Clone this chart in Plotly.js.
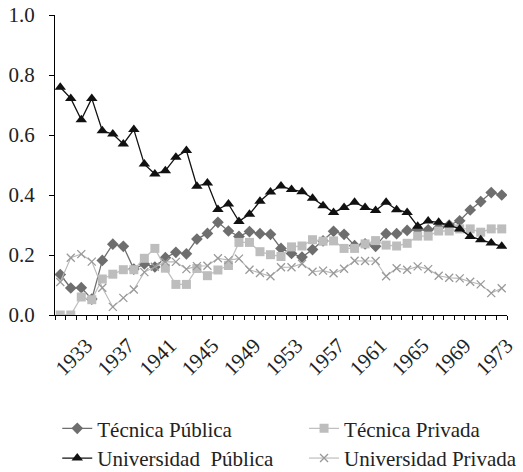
<!DOCTYPE html>
<html>
<head>
<meta charset="utf-8">
<script src="https://cdn.plot.ly/plotly-3.0.1.min.js"></script>
<style>html,body{margin:0;padding:0;background:#fff;}#chart{width:523px;height:472px;}</style>
</head>
<body>
<div id="chart"></div>
<script>
const years = [];
for (let y = 1931; y <= 1973; y++) years.push(y);

const tecnicaPublica = [0.135, 0.090, 0.091, 0.053, 0.182, 0.236, 0.229, 0.153, 0.170, 0.160,
  0.191, 0.209, 0.204, 0.253, 0.272, 0.309, 0.280, 0.262, 0.278, 0.271,
  0.269, 0.222, 0.205, 0.193, 0.218, 0.247, 0.279, 0.269, 0.231, 0.237,
  0.229, 0.271, 0.271, 0.282, 0.285, 0.284, 0.291, 0.300, 0.314, 0.350,
  0.378, 0.408, 0.400];

const tecnicaPrivada = [0.000, 0.000, 0.060, 0.051, 0.120, 0.136, 0.151, 0.151, 0.189, 0.222,
  0.156, 0.102, 0.102, 0.155, 0.131, 0.150, 0.165, 0.242, 0.242, 0.211,
  0.201, 0.195, 0.227, 0.230, 0.251, 0.246, 0.247, 0.222, 0.222, 0.237,
  0.248, 0.233, 0.230, 0.239, 0.263, 0.263, 0.280, 0.280, 0.287, 0.287,
  0.276, 0.287, 0.287];

const universidadPublica = [0.759, 0.722, 0.651, 0.722, 0.614, 0.603, 0.570, 0.618, 0.503, 0.470,
  0.481, 0.526, 0.548, 0.429, 0.440, 0.352, 0.370, 0.312, 0.336, 0.379,
  0.410, 0.430, 0.418, 0.411, 0.389, 0.364, 0.342, 0.358, 0.376, 0.358,
  0.348, 0.376, 0.351, 0.342, 0.296, 0.313, 0.309, 0.300, 0.287, 0.262,
  0.251, 0.240, 0.229];

const universidadPrivada = [0.110, 0.191, 0.203, 0.178, 0.091, 0.027, 0.057, 0.085, 0.143, 0.161,
  0.177, 0.177, 0.153, 0.163, 0.164, 0.189, 0.183, 0.188, 0.151, 0.140,
  0.129, 0.159, 0.159, 0.171, 0.144, 0.148, 0.139, 0.154, 0.181, 0.180,
  0.180, 0.129, 0.156, 0.151, 0.162, 0.153, 0.131, 0.124, 0.122, 0.111,
  0.102, 0.073, 0.089];

const tickYears = [1933, 1937, 1941, 1945, 1949, 1953, 1957, 1961, 1965, 1969, 1973];
const tickLabels = tickYears.map(String);
const yTicks = [0, 0.2, 0.4, 0.6, 0.8, 1.0];

const serif = 'Liberation Serif';
const fs = 21;

const traces = [
  {name: 'Técnica Pública', y: tecnicaPublica, legend: 'legend',
   line: {color: '#6e6e6e', width: 1.3},
   marker: {symbol: 'diamond', size: 9, color: '#6e6e6e'}},
  {name: 'Técnica Privada', y: tecnicaPrivada, legend: 'legend2',
   line: {color: '#c0c0c0', width: 1.3},
   marker: {symbol: 'square', size: 9, color: '#bdbdbd'}},
  {name: 'Universidad\u00a0 Pública', y: universidadPublica, legend: 'legend3',
   line: {color: '#111111', width: 1.3},
   marker: {symbol: 'triangle-up', size: 10, color: '#111111'}},
  {name: 'Universidad Privada', y: universidadPrivada, legend: 'legend4',
   line: {color: '#b8b8b8', width: 1.1},
   marker: {symbol: 'x-thin-open', size: 8, color: '#999999', line: {color: '#999999', width: 1.3}}}
].map(t => Object.assign({x: years, type: 'scatter', mode: 'lines+markers'}, t));

const legendBase = {
  orientation: 'h', xanchor: 'left', yanchor: 'middle',
  font: {family: serif, size: fs, color: '#222'},
  bgcolor: 'rgba(0,0,0,0)', borderwidth: 0
};
const col1 = 0.005, col2 = 0.551, row1 = -0.379, row2 = -0.478;

const layout = {
  width: 523, height: 472,
  margin: {l: 55, r: 16, t: 15, b: 157, autoexpand: false},
  paper_bgcolor: '#fff', plot_bgcolor: '#fff',
  font: {family: serif, size: fs, color: '#222'},
  showlegend: true,
  xaxis: {
    range: [1930.5, 1973.5], automargin: false,
    tickmode: 'array', tickvals: tickYears, ticktext: tickLabels,
    tickangle: -45, ticks: '', showgrid: false, zeroline: false,
    ticklabelstandoff: 9, ticklabelshift: 5,
    showline: true, linecolor: '#000', linewidth: 1,
    tickfont: {family: serif, size: fs, color: '#222'},
    minor: {ticks: 'outside', ticklen: 4, tickcolor: '#000', tick0: 1930.5, dtick: 1, showgrid: false}
  },
  yaxis: {
    range: [0, 1.0], automargin: false,
    tickmode: 'array', tickvals: yTicks, ticktext: yTicks.map(v => v.toFixed(1)),
    ticks: 'outside', ticklen: 5, tickcolor: '#000', ticklabelstandoff: 10,
    showgrid: false, zeroline: false,
    showline: true, linecolor: '#000', linewidth: 1,
    tickfont: {family: serif, size: fs, color: '#222'}
  },
  legend: Object.assign({}, legendBase, {x: col1, y: row1}),
  legend2: Object.assign({}, legendBase, {x: col2, y: row1}),
  legend3: Object.assign({}, legendBase, {x: col1, y: row2}),
  legend4: Object.assign({}, legendBase, {x: col2, y: row2})
};

Plotly.newPlot('chart', traces, layout, {displayModeBar: false, staticPlot: true});
</script>
</body>
</html>
